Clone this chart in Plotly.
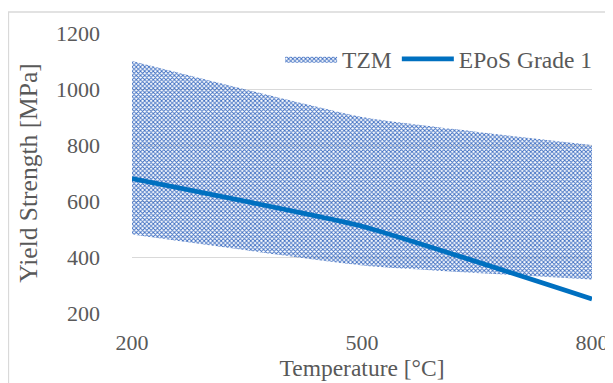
import plotly.graph_objects as go

temperature = [200, 500, 800]
tzm_lower = [480, 370, 320]
tzm_upper = [1100, 900, 800]
epos_grade1 = [680, 510, 250]

x_ticks = [200, 500, 800]
y_ticks = [200, 400, 600, 800, 1000, 1200]

FONT = "Liberation Serif"
TXT = "#595959"

fig = go.Figure()
fig.add_trace(go.Scatter(
    x=temperature, y=tzm_lower, mode="lines",
    line=dict(width=0, shape="spline", smoothing=0.4, color="rgba(0,0,0,0)"),
    showlegend=False, hoverinfo="skip"))
fig.add_trace(go.Scatter(
    x=temperature, y=tzm_upper, mode="lines", name="TZM",
    line=dict(width=0, shape="spline", smoothing=0.4, color="rgba(0,0,0,0)"),
    fill="tonexty", fillcolor="rgba(68,114,196,0.6)",
    fillpattern=dict(shape="x", size=3, solidity=0.5,
                     fgcolor="#3A6BC0", bgcolor="rgba(255,255,255,0.1)", fillmode="replace")))
fig.add_trace(go.Scatter(
    x=temperature, y=epos_grade1, mode="lines", name="EPoS Grade 1",
    line=dict(width=4.8, color="#0070C0", shape="spline", smoothing=0.4)))

fig.update_layout(
    width=605, height=375,
    margin=dict(l=124, r=21, t=25, b=70, autoexpand=False),
    paper_bgcolor="white", plot_bgcolor="white",
    font=dict(family=FONT, color=TXT, size=22),
    legend=dict(orientation="h", x=0.322, xanchor="left", y=0.907, yanchor="middle",
                font=dict(size=23.5, color=TXT), itemwidth=52,
                bgcolor="rgba(0,0,0,0)", traceorder="normal"),
    xaxis=dict(range=[200, 800], tickvals=x_ticks, showgrid=False, zeroline=False,
               showline=False, ticks="", ticklabelstandoff=14, automargin=False,
               tickfont=dict(size=22, color=TXT),
               title=dict(text="Temperature [°C]", font=dict(size=23.5, color=TXT), standoff=3)),
    yaxis=dict(range=[200, 1200], tickvals=y_ticks, showgrid=True, gridcolor="#D9D9D9",
               gridwidth=1.3, zeroline=False, showline=False, ticks="", ticklabelstandoff=31,
               automargin=False,
               tickfont=dict(size=22, color=TXT),
               title=dict(text="Yield Strength [MPa]", font=dict(size=25.5, color=TXT), standoff=11)),
)

fig.add_shape(type="rect", xref="paper", yref="paper",
              x0=-0.2685, x1=1.2, y0=-0.5, y1=1.075,
              line=dict(color="#D9D9D9", width=1.3), fillcolor="rgba(0,0,0,0)", layer="below")

fig.write_html("out.html")
